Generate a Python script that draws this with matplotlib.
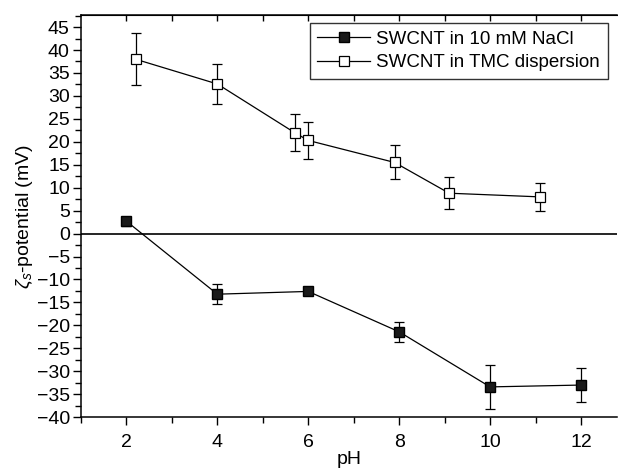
import matplotlib
matplotlib.use("Agg")
from matplotlib import pyplot as plt
from matplotlib.ticker import MultipleLocator
from matplotlib.lines import Line2D

plt.rcParams['font.family'] = ['Liberation Sans', 'DejaVu Sans']
plt.rcParams['mathtext.fontset'] = 'custom'
plt.rcParams['mathtext.it'] = 'Liberation Sans:italic'
plt.rcParams['mathtext.rm'] = 'Liberation Sans'

# SWCNT in 10 mM NaCl
ph_nacl = [2.0, 4.0, 6.0, 8.0, 10.0, 12.0]
zeta_nacl = [2.7, -13.2, -12.6, -21.4, -33.4, -33.0]
err_nacl = [1.0, 2.2, 0.4, 2.2, 4.8, 3.7]

# SWCNT in TMC dispersion
ph_tmc = [2.2, 4.0, 5.7, 6.0, 7.9, 9.1, 11.1]
zeta_tmc = [38.0, 32.6, 22.0, 20.3, 15.5, 8.8, 8.0]
err_tmc = [5.7, 4.3, 4.0, 4.1, 3.7, 3.5, 3.1]

labels = ['SWCNT in 10 mM NaCl', 'SWCNT in TMC dispersion']

fig = plt.figure(figsize=(6.18, 4.73), dpi=100)
ax = fig.add_axes([0.131, 0.118, 0.868, 0.850])

ax.axhline(0, color='black', lw=1.2, zorder=1)

style_nacl = dict(color='black', lw=0.9, marker='s', markersize=6.5,
                  markerfacecolor='#1a1a1a', markeredgecolor='black')
style_tmc = dict(color='black', lw=0.9, marker='s', markersize=6.5,
                 markerfacecolor='white', markeredgecolor='black', markeredgewidth=0.9)

ax.errorbar(ph_nacl, zeta_nacl, yerr=err_nacl, capsize=3.5, capthick=0.9,
            elinewidth=0.9, zorder=3, **style_nacl)
ax.errorbar(ph_tmc, zeta_tmc, yerr=err_tmc, capsize=3.5, capthick=0.9,
            elinewidth=0.9, zorder=3, **style_tmc)

ax.set_xlim(1.0, 12.8)
ax.set_ylim(-40, 47.6)
ax.set_xticks([2, 4, 6, 8, 10, 12])
ax.xaxis.set_minor_locator(MultipleLocator(1))
yt = list(range(-40, 46, 5))
ax.set_yticks(yt)
ax.set_yticklabels([str(v).replace('-', '\u2212') for v in yt])
ax.yaxis.set_minor_locator(MultipleLocator(2.5))
ax.tick_params(axis='both', which='major', direction='out', length=6, width=1,
               labelsize=14, colors='black')
ax.tick_params(axis='x', which='major', pad=6)
ax.tick_params(axis='y', which='major', pad=2)
ax.tick_params(axis='both', which='minor', direction='out', length=4, width=1)

top = ax.secondary_xaxis('top')
top.set_xticks(range(2, 13))
top.tick_params(direction='in', length=4, width=1, labeltop=False)

ax.spines['right'].set_visible(False)
for s in ['left', 'bottom', 'top']:
    ax.spines[s].set_linewidth(1.1)

ax.set_xlabel('pH', fontsize=14, labelpad=0)
ax.set_ylabel(r'$\zeta_s$-potential (mV)', fontsize=14, labelpad=1)

handles = [Line2D([], [], **style_nacl), Line2D([], [], **style_tmc)]
leg = ax.legend(handles, labels, loc='upper right', bbox_to_anchor=(0.982, 0.98),
                fontsize=13.5, frameon=True, fancybox=False, edgecolor='black',
                handlelength=2.8, borderaxespad=0, borderpad=0.4,
                labelspacing=0.35, handletextpad=0.35)
leg.get_frame().set_linewidth(1.0)

plt.savefig('out.png', dpi=100)
